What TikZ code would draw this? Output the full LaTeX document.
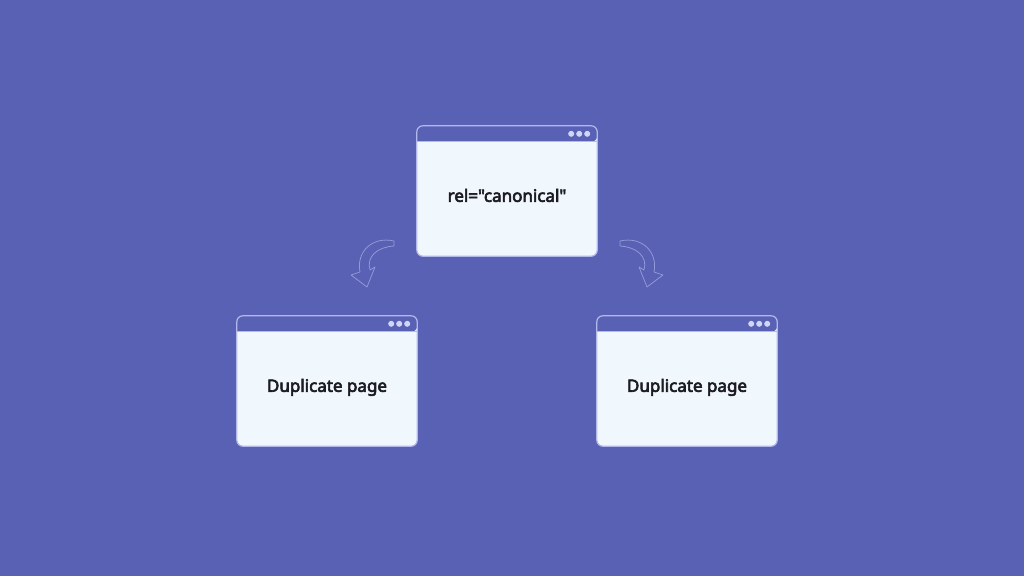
\documentclass[tikz,border=0pt]{standalone}
\usepackage{fontspec}
\setmainfont{Noto Sans}
\newfontfamily\boldnoto{Noto Sans}[FakeBold=3.6]
\definecolor{bgc}{HTML}{5961B4}
\definecolor{bodyc}{HTML}{F0F7FD}
\definecolor{edgec}{HTML}{B4B9EC}
\definecolor{dotc}{HTML}{D2D6F6}
\definecolor{arrc}{HTML}{949AD9}
\definecolor{txtc}{HTML}{1C1C22}
\tikzset{
  win/.style={fill=bodyc, rounded corners=6pt, minimum width=180pt, minimum height=130pt, inner sep=0pt},
  wintext/.style={font=\boldnoto\fontsize{17}{20}\selectfont, text=txtc, inner sep=0pt, anchor=base},
  winedge/.style={draw=edgec, line width=1.2pt, rounded corners=6pt},
  dot/.style={fill=dotc, draw=none},
  doodle/.style={draw=arrc, line width=0.75pt, line join=round, line cap=round}
}
\newcommand{\browser}[3]{%
  \node[win] (#1) at (#2) {};
  \fill[bgc, rounded corners=6pt] ([yshift=-16pt]#1.north west) -- (#1.north west) -- (#1.north east) -- ([yshift=-16pt]#1.north east) [sharp corners] -- cycle;
  \draw[winedge] (#1.north west) rectangle (#1.south east);
  \draw[draw=edgec, line width=1pt] ([yshift=-16pt]#1.north west) -- ([yshift=-16pt]#1.north east);
  \fill[dot] ([xshift=-10pt,yshift=-8pt]#1.north east) circle (3pt);
  \fill[dot] ([xshift=-18pt,yshift=-8pt]#1.north east) circle (3pt);
  \fill[dot] ([xshift=-26pt,yshift=-8pt]#1.north east) circle (3pt);
  \node[wintext] (#1-t) at ([yshift=-76pt]#1.north) {#3};
}
\begin{document}
\begin{tikzpicture}[x=1pt,y=-1pt]
\fill[bgc] (0,0) rectangle (1024,576);
\useasboundingbox (0,0) rectangle (1024,576);
\browser{top}{507,191}{rel=\char"22 canonical\char"22}
\browser{left}{327,381}{Duplicate page}
\browser{right}{687,381}{Duplicate page}
% left doodle arrow
\draw[doodle] (394,241) .. controls (372,236) and (356,252) .. (360,272)
  -- (351,275) -- (367,287) -- (375,267) -- (370,270)
  .. controls (366,256) and (378,247) .. (394,246) -- cycle;
% right doodle arrow (mirror)
\begin{scope}[xshift=1014pt, x=-1pt]
\draw[doodle] (394,241) .. controls (372,236) and (356,252) .. (360,272)
  -- (351,275) -- (367,287) -- (375,267) -- (370,270)
  .. controls (366,256) and (378,247) .. (394,246) -- cycle;
\end{scope}
\end{tikzpicture}
\end{document}
